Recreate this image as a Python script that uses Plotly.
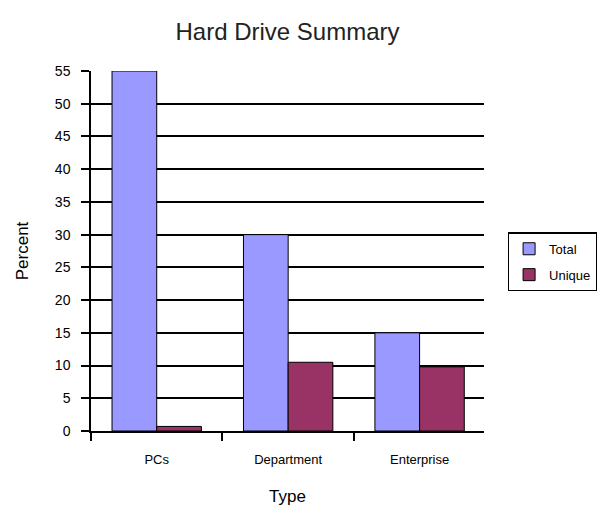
import plotly.graph_objects as go

categories = ["PCs", "Department", "Enterprise"]
total_values = [55, 30, 15]
unique_values = [0.7, 10.5, 9.8]
y_ticks = list(range(0, 56, 5))

fig = go.Figure()
fig.add_trace(go.Bar(name="Total", x=categories, y=total_values, legendgroup="a",
                     marker=dict(color="#9999FF", line=dict(color="#000000", width=1))))
fig.add_trace(go.Bar(name="Unique", x=categories, y=unique_values, legendgroup="b",
                     marker=dict(color="#993366", line=dict(color="#000000", width=1))))

font_family = "Liberation Sans, Arial, sans-serif"
fig.update_layout(
    width=605, height=525,
    margin=dict(l=83, r=129, t=63, b=102),
    paper_bgcolor="white", plot_bgcolor="white",
    barmode="group", bargap=0.32, bargroupgap=0,
    font=dict(family=font_family, color="#000000"),
    title=dict(text="Hard Drive Summary", x=0.5, xanchor="center", y=0.955, yanchor="middle",
               xref="paper", font=dict(size=24, color="#222222")),
    showlegend=True,
    legend=dict(x=1.06, y=0.47, xanchor="left", yanchor="middle",
                bordercolor="#000000", borderwidth=1.5, bgcolor="white",
                font=dict(size=13), itemwidth=30, traceorder="grouped", tracegroupgap=6),
    xaxis=dict(title=dict(text="Type", font=dict(size=17), standoff=24),
               showline=True, linecolor="#000000", linewidth=1.5,
               ticks="outside", ticklen=8, tickcolor="#000000", tickwidth=1.5,
               tickson="boundaries", tickfont=dict(size=13), showgrid=False,
               ticklabelstandoff=16, range=[-0.5, 2.49]),
    yaxis=dict(title=dict(text="Percent", font=dict(size=17), standoff=22),
               range=[0, 55], tickvals=y_ticks, showline=True, linecolor="#000000",
               linewidth=1.5, ticks="outside", ticklen=8, tickcolor="#000000", tickwidth=1.5,
               showgrid=True, gridcolor="#000000", gridwidth=1.5, tickfont=dict(size=14),
               ticklabelstandoff=8, zeroline=False),
)

fig.write_html("out.html")
